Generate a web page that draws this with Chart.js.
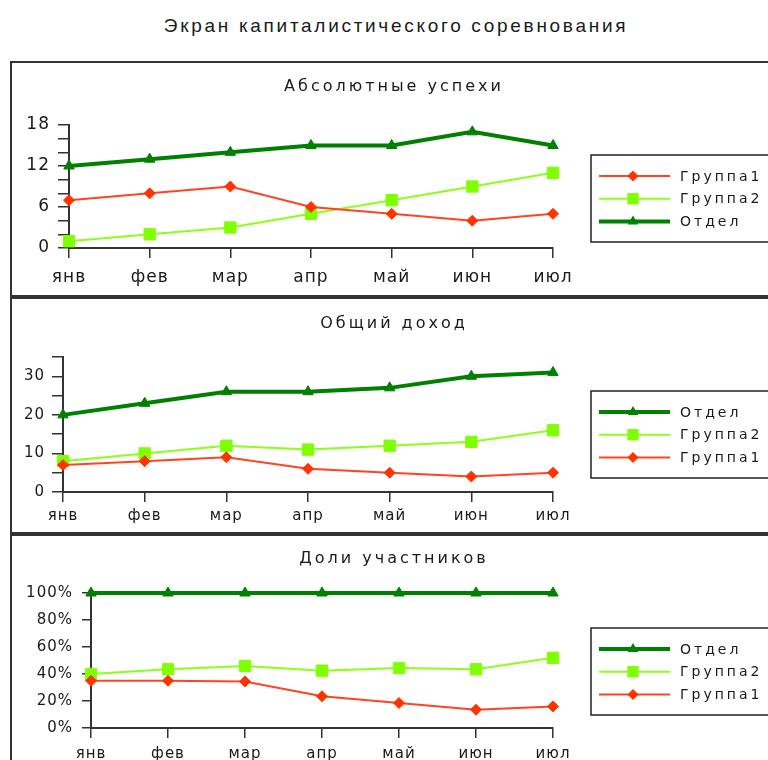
<!DOCTYPE html>
<html>
<head>
<meta charset="utf-8">
<script src="https://cdn.jsdelivr.net/npm/chart.js@4/dist/chart.umd.min.js"></script>
<style>
  body { margin:0; width:768px; height:760px; overflow:hidden; background:#fff; position:relative; }
  #title { position:absolute; left:0; top:15px; width:792px; text-align:center;
           font:19px "Liberation Sans"; letter-spacing:2.7px; color:#1a1a1a; }
  .panel { position:absolute; left:10px; width:800px; border:2px solid #333; box-sizing:border-box; }
  .panel canvas { position:absolute; left:0; top:0; }
  .ptitle { position:absolute; left:0; width:764px; text-align:center;
            font:16px "DejaVu Sans"; letter-spacing:3px; color:#1a1a1a; }
</style>
</head>
<body>
<div id="title">Экран капиталистического соревнования</div>

<div class="panel" style="top:61px;height:236px">
  <canvas id="chart-abs" width="796" height="232"></canvas>
  <div class="ptitle" style="top:13px">Абсолютные  успехи</div>
</div>
<div class="panel" style="top:297px;height:237px">
  <canvas id="chart-inc" width="796" height="233"></canvas>
  <div class="ptitle" style="top:14px">Общий  доход</div>
</div>
<div class="panel" style="top:534px;height:300px">
  <canvas id="chart-share" width="796" height="240"></canvas>
  <div class="ptitle" style="top:12px">Доли  участников</div>
</div>

<script>
/* ── DATA ─────────────────────────────────────────────────── */
const months = ['янв', 'фев', 'мар', 'апр', 'май', 'июн', 'июл'];

// Абсолютные успехи
const absGroup1 = [7, 8, 9, 6, 5, 4, 5];
const absGroup2 = [1, 2, 3, 5, 7, 9, 11];
const absDept   = [12, 13, 14, 15, 15, 17, 15];

// Общий доход (нарастающий)
const incGroup1 = [7, 8, 9, 6, 5, 4, 5];
const incGroup2 = [8, 10, 12, 11, 12, 13, 16];
const incDept   = [20, 23, 26, 26, 27, 30, 31];

// Доли участников, %
const shareGroup1 = [35, 35, 34.5, 23.5, 18.5, 13.5, 16];
const shareGroup2 = [40, 43.5, 46, 42.5, 44.5, 43.5, 52];
const shareDept   = [100, 100, 100, 100, 100, 100, 100];

// labelled y ticks
const absTickLabels   = [0, 6, 12, 18];
const incTickLabels   = [0, 10, 20, 30];
const shareTickLabels = [0, 20, 40, 60, 80, 100];

/* ── SERIES STYLES ────────────────────────────────────────── */
const STY = {
  g1:   { label:'Группа1', line:'#ff4422', mark:'#ff3300', width:2, style:'rectRot',  r:5.5 },
  g2:   { label:'Группа2', line:'#8cff1a', mark:'#80ff00', width:2, style:'rect',     r:8   },
  dept: { label:'Отдел',   line:'#008000', mark:'#008000', width:4, style:'triangle', r:6   },
};

function ds(s, data) {
  return {
    label: s.label, data,
    borderColor: s.line, backgroundColor: s.mark, borderWidth: s.width,
    pointStyle: s.style, pointRadius: s.r, pointHoverRadius: s.r,
    pointBackgroundColor: s.mark, pointBorderColor: s.mark, pointBorderWidth: 1,
    tension: 0, clip: false, fill: false,
  };
}

/* ── BOXED LEGEND (line + marker) ─────────────────────────── */
function drawMarker(ctx, s, x, y) {
  const r = s.r;
  ctx.fillStyle = s.mark;
  ctx.beginPath();
  if (s.style === 'rectRot') {
    ctx.moveTo(x, y - r); ctx.lineTo(x + r, y); ctx.lineTo(x, y + r); ctx.lineTo(x - r, y);
  } else if (s.style === 'rect') {
    const h = r * Math.SQRT1_2;
    ctx.rect(x - h, y - h, 2 * h, 2 * h);
  } else {
    ctx.moveTo(x, y - r); ctx.lineTo(x + r * 0.866, y + r / 2); ctx.lineTo(x - r * 0.866, y + r / 2);
  }
  ctx.closePath();
  ctx.fill();
}

const boxLegend = {
  id: 'boxLegend',
  beforeDraw(chart) { chart.ctx.letterSpacing = '1px'; },
  afterDraw(chart, args, opts) {
    const ctx = chart.ctx;
    ctx.save();
    ctx.lineWidth = 1.5;
    ctx.strokeStyle = '#222';
    ctx.strokeRect(opts.x, opts.top, 400, opts.height);
    opts.items.forEach((s, i) => {
      const y = opts.row0 + i * opts.rowGap;
      ctx.strokeStyle = s.line;
      ctx.lineWidth = s.width;
      ctx.beginPath(); ctx.moveTo(opts.x + 8, y); ctx.lineTo(opts.x + 79, y); ctx.stroke();
      drawMarker(ctx, s, opts.x + 42, y);
      ctx.fillStyle = '#1a1a1a';
      ctx.font = '14px "DejaVu Sans"';
      ctx.letterSpacing = '3px';
      ctx.textBaseline = 'middle';
      ctx.fillText(s.label, opts.x + 89, y + 1);
    });
    ctx.restore();
  },
};

/* ── CHART FACTORY ────────────────────────────────────────── */
function makeChart(id, datasets, legendItems, y, g) {
  const el = document.getElementById(id);
  return new Chart(el.getContext('2d'), {
    type: 'line',
    data: { labels: months, datasets },
    plugins: [boxLegend],
    options: {
      responsive: false, animation: false, events: [],
      layout: { padding: { left: 0, top: g.top, right: el.width - g.right, bottom: 0 } },
      plugins: {
        legend: { display: false }, tooltip: { enabled: false },
        boxLegend: { items: legendItems, x: 579, top: 92, height: 87, row0: 113, rowGap: 22.7 },
      },
      scales: {
        x: {
          offset: false,
          grid: { drawOnChartArea: false, drawTicks: true, tickLength: 10, color: '#333', lineWidth: 1.5 },
          border: { display: true, color: '#333', width: 2 },
          ticks: { color: '#1a1a1a', padding: g.xPad, maxRotation: 0, autoSkip: false,
                   font: { family: 'DejaVu Sans', size: g.xFont } },
          afterFit: sc => { sc.height = g.xh; },
        },
        y: {
          min: 0, max: y.max,
          grid: { drawOnChartArea: false, drawTicks: true, tickLength: g.yTick, color: '#333', lineWidth: 1.5 },
          border: { display: true, color: '#333', width: 2 },
          ticks: { stepSize: y.step, color: '#1a1a1a', padding: g.yPad, autoSkip: false,
                   font: { family: 'DejaVu Sans', size: g.yFont },
                   callback: v => y.labels.includes(v) ? v + y.unit : '' },
          afterFit: sc => { sc.width = g.left; },
        },
      },
    },
  });
}

makeChart('chart-abs',
  [ds(STY.g1, absGroup1), ds(STY.g2, absGroup2), ds(STY.dept, absDept)],
  [STY.g1, STY.g2, STY.dept],
  { max: 18, step: 2, labels: absTickLabels, unit: '' },
  { left: 57, right: 541, top: 62, xh: 47, xFont: 17, yFont: 17, xPad: 9, yPad: 8, yTick: 11 });

makeChart('chart-inc',
  [ds(STY.g1, incGroup1), ds(STY.g2, incGroup2), ds(STY.dept, incDept)],
  [STY.dept, STY.g2, STY.g1],
  { max: 35, step: 5, labels: incTickLabels, unit: '' },
  { left: 51, right: 541, top: 58, xh: 40, xFont: 15, yFont: 15, xPad: 5, yPad: 7, yTick: 11 });

makeChart('chart-share',
  [ds(STY.g1, shareGroup1), ds(STY.g2, shareGroup2), ds(STY.dept, shareDept)],
  [STY.dept, STY.g2, STY.g1],
  { max: 100, step: 20, labels: shareTickLabels, unit: '%' },
  { left: 79, right: 541, top: 57, xh: 48, xFont: 15, yFont: 15, xPad: 7, yPad: 9, yTick: 9 });
</script>
</body>
</html>
